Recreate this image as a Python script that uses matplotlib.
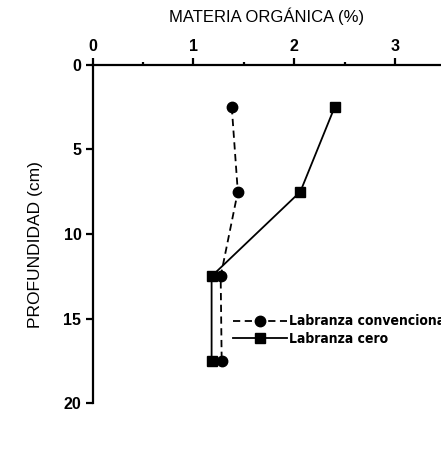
import matplotlib
matplotlib.use("Agg")
import matplotlib.pyplot as plt
from matplotlib.ticker import MultipleLocator

# datos
profundidad = [2.5, 7.5, 12.5, 17.5]
mo_convencional = [1.38, 1.44, 1.27, 1.28]
mo_cero = [2.40, 2.06, 1.18, 1.18]

etiqueta_conv = "Labranza convencional"
etiqueta_cero = "Labranza cero"

plt.rcParams['font.family'] = ['Liberation Sans', 'DejaVu Sans']

fig = plt.figure(figsize=(4.41, 4.57), dpi=100)
ax = fig.add_axes([0.210, 0.118, 0.790, 0.740])

ax.plot(mo_convencional, profundidad, color="black", lw=1.3, ls=(0, (4, 2.5)),
        marker="o", markersize=7.5, label=etiqueta_conv)
ax.plot(mo_cero, profundidad, color="black", lw=1.3, ls="-",
        marker="s", markersize=7, label=etiqueta_cero)

ax.set_xlim(0, 3.455)
ax.set_ylim(20, 0)

# eje x arriba
ax.xaxis.tick_top()
ax.xaxis.set_label_position("top")
ax.xaxis.set_major_locator(MultipleLocator(1))
ax.xaxis.set_minor_locator(MultipleLocator(0.5))
ax.yaxis.set_major_locator(MultipleLocator(5))

ax.spines['right'].set_visible(False)
ax.spines['bottom'].set_visible(False)
ax.spines['top'].set_linewidth(1.6)
ax.spines['left'].set_linewidth(1.6)

ax.tick_params(axis="both", which="major", direction="out", length=5, width=1.6,
               labelsize=11.5, pad=3)
ax.tick_params(axis="x", which="minor", direction="out", length=2.5, width=1.6)
for lab in ax.get_xticklabels() + ax.get_yticklabels():
    lab.set_fontweight("bold")

ax.set_xlabel("MATERIA ORGÁNICA (%)", fontsize=12, labelpad=12)
ax.set_ylabel("PROFUNDIDAD (cm)", fontsize=12.5)
ax.yaxis.set_label_coords(-0.143, 0.47)

leg = ax.legend(loc="upper left", bbox_to_anchor=(0.403, 0.262), frameon=False,
                handlelength=3.9, handletextpad=0.15, labelspacing=0.25,
                borderpad=0, borderaxespad=0,
                prop={'family': ['DejaVu Sans'], 'weight': 'bold',
                      'stretch': 'condensed', 'size': 10})

fig.savefig("out.png", dpi=100)
